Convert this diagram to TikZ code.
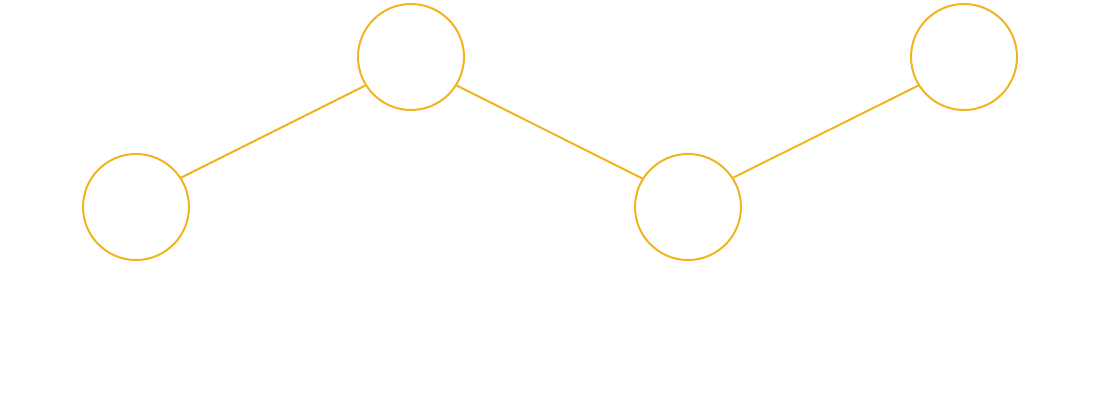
\documentclass[tikz,border=0pt]{standalone}
\usepackage{tikz}
\usepackage{xcolor}
\usetikzlibrary{positioning}

\definecolor{nodegold}{RGB}{240,180,30}

\begin{document}
\begin{tikzpicture}[x=1pt, y=-1pt, every node/.style={font=\small}]
				\useasboundingbox (0,0) rectangle (1100,400);
				\tikzset{knot/.style={circle, draw=nodegold, line width=2pt, minimum size=106pt, inner sep=0pt}}
				\node[knot] (a) at (136,207) {};
				\node[knot] (b) at (411,57) {};
				\node[knot] (c) at (688,207) {};
				\node[knot] (d) at (964,57) {};
				
				\draw[nodegold, line width=2pt] (a.33) -- (b.212);
				\draw[nodegold, line width=2pt] (b.328) -- (c.148);
				\draw[nodegold, line width=2pt] (c.33) -- (d.212);
			\end{tikzpicture}
\end{document}
